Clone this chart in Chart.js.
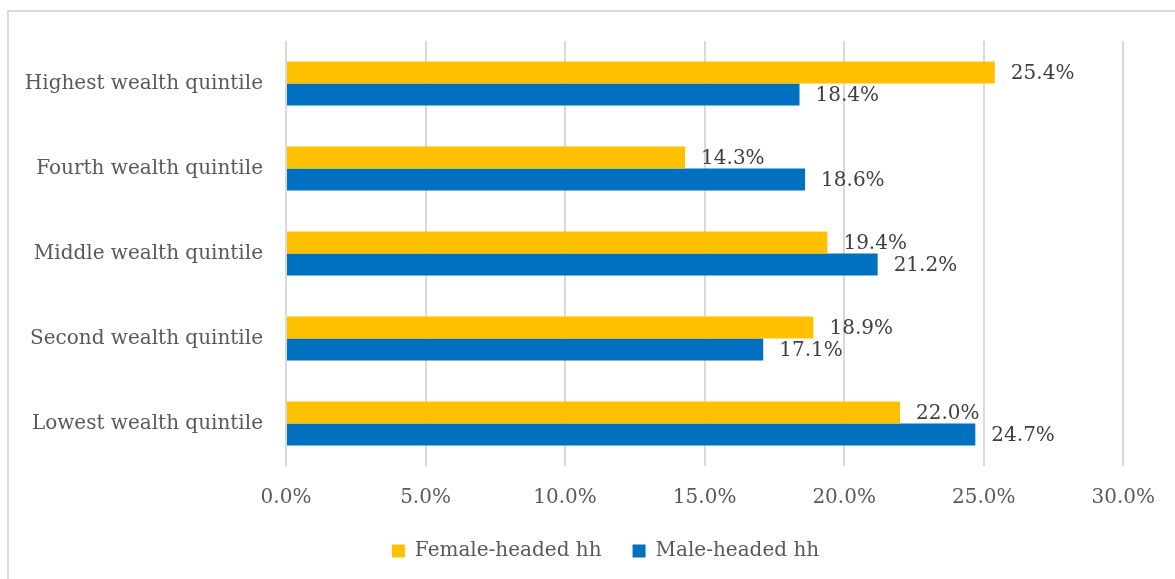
<!DOCTYPE html>
<html lang="en">
<head>
    <meta charset="UTF-8">
    <title>Wealth quintile by household head</title>
    <script src="https://cdn.jsdelivr.net/npm/chart.js"></script>
    <style>
        body {
            margin: 0;
            background: #fff;
        }
        .wrap {
            position: relative;
            width: 1175px;
            height: 579px;
        }
        .frame {
            position: absolute;
            left: 7px;
            top: 10px;
            width: 1200px;
            height: 600px;
            border-left: 2px solid #d9d9d9;
            border-top: 2px solid #d9d9d9;
        }
        canvas {
            position: absolute;
            left: 0;
            top: 0;
        }
    </style>
</head>
<body>
    <div class="wrap">
        <div class="frame"></div>
        <canvas id="quintileChart" width="1175" height="579"></canvas>
    </div>

    <script>
        const categories = ['Highest wealth quintile', 'Fourth wealth quintile', 'Middle wealth quintile', 'Second wealth quintile', 'Lowest wealth quintile'];
        const femaleHeaded = [25.4, 14.3, 19.4, 18.9, 22.0];
        const maleHeaded = [18.4, 18.6, 21.2, 17.1, 24.7];
        const xTicks = [0, 5, 10, 15, 20, 25, 30];

        const fontFamily = "'DejaVu Serif', serif";

        // draws the value labels just past the end of each bar
        const valueLabels = {
            id: 'valueLabels',
            afterDatasetsDraw(chart) {
                const c = chart.ctx;
                c.save();
                c.font = '20px ' + fontFamily;
                c.fillStyle = '#404040';
                c.textBaseline = 'middle';
                c.textAlign = 'left';
                chart.data.datasets.forEach((ds, i) => {
                    chart.getDatasetMeta(i).data.forEach((bar, j) => {
                        c.fillText(ds.data[j].toFixed(1) + '%', bar.x + 16, bar.y + 1);
                    });
                });
                c.restore();
            }
        };

        // legend sits a bit right of page centre, like the original
        const shiftLegend = {
            id: 'shiftLegend',
            afterLayout(chart) {
                if (chart.legend) chart.legend.left = 80;
            }
        };

        const ctx = document.getElementById('quintileChart').getContext('2d');
        new Chart(ctx, {
            type: 'bar',
            data: {
                labels: categories,
                datasets: [
                    {
                        label: 'Female-headed hh',
                        data: femaleHeaded,
                        backgroundColor: '#ffc000',
                        categoryPercentage: 0.52,
                        barPercentage: 1.0
                    },
                    {
                        label: 'Male-headed hh',
                        data: maleHeaded,
                        backgroundColor: '#0070c0',
                        categoryPercentage: 0.52,
                        barPercentage: 1.0
                    }
                ]
            },
            options: {
                indexAxis: 'y',
                responsive: false,
                animation: false,
                layout: {
                    padding: { top: 41, right: 44, bottom: 8, left: 0 }
                },
                plugins: {
                    legend: {
                        position: 'bottom',
                        labels: {
                            font: { family: fontFamily, size: 20 },
                            color: '#595959',
                            boxWidth: 13,
                            boxHeight: 13,
                            padding: 31
                        }
                    },
                    tooltip: { enabled: false }
                },
                scales: {
                    x: {
                        min: 0,
                        max: 30,
                        afterBuildTicks: (scale) => {
                            scale.ticks = xTicks.map(v => ({ value: v }));
                        },
                        afterFit: (scale) => { scale.height = 44; },
                        grid: {
                            color: '#d9d9d9',
                            lineWidth: 2,
                            drawTicks: false
                        },
                        border: { display: false },
                        ticks: {
                            padding: 20,
                            color: '#595959',
                            font: { family: fontFamily, size: 20 },
                            callback: (v) => v.toFixed(1) + '%'
                        }
                    },
                    y: {
                        afterFit: (scale) => { scale.width = 286; },
                        grid: { display: false },
                        border: { display: false },
                        ticks: {
                            padding: 15,
                            color: '#595959',
                            font: { family: fontFamily, size: 20 }
                        }
                    }
                }
            },
            plugins: [valueLabels, shiftLegend]
        });
    </script>
</body>
</html>
